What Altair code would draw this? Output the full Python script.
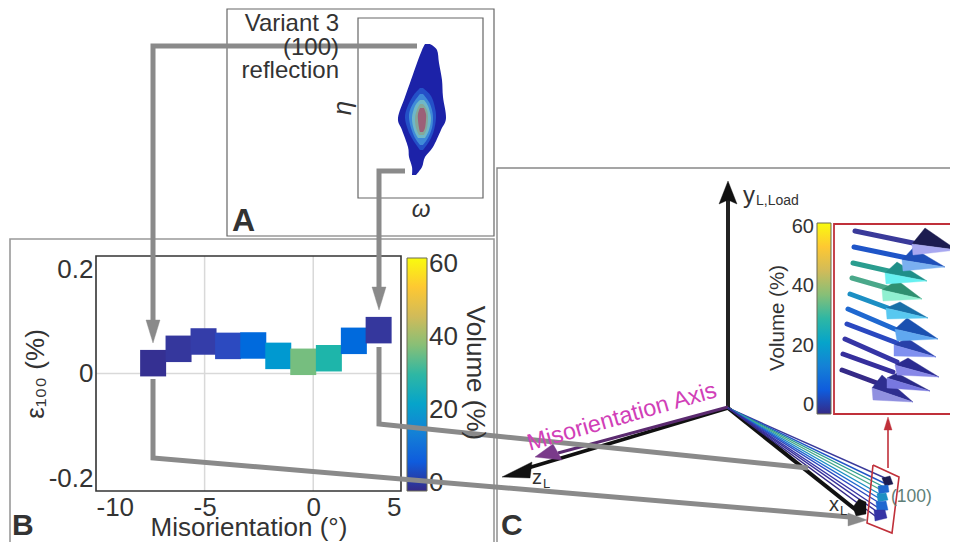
import altair as alt
import pandas as pd

# ---- panel B data
misorientation = [-7.37, -6.2, -5.05, -3.92, -2.76, -1.61, -0.46, 0.72, 1.87, 3.01]
strain = [0.0176, 0.042, 0.0545, 0.047, 0.0477, 0.030, 0.0199, 0.026, 0.0556, 0.0738]
volume = [1, 2, 3, 5, 10, 20, 36, 29, 10, 2]
parula_values = [0, 7.5, 15, 22.5, 30, 37.5, 45, 52.5, 60]
parula = ["#352a87", "#0f5cdd", "#1481d6", "#06a4ca", "#2eb7a4", "#87bf77", "#d1bb59", "#fec832", "#f9fb0e"]
bar_ticks = [0, 20, 40, 60]
INK = "#333333"

PX = alt.Scale(domain=[0, 958], range=[-8, 950], nice=False, zero=False)
PY = alt.Scale(domain=[0, 550], range=[-8, 542], nice=False, zero=False)
SX = alt.Scale(domain=[-10, 4.04], range=[88, 393], nice=False, zero=False)
SY = alt.Scale(domain=[-0.2, 0.2], range=[483, 248], nice=False, zero=False)


def X(f="x"):
    return alt.X(f"{f}:Q", scale=PX, axis=None)


def Y(f="y"):
    return alt.Y(f"{f}:Q", scale=PY, axis=None)


def frame(x0, y0, x1, y1, color="#777777", w=1.2):
    return alt.Chart(pd.DataFrame({"x": [x0], "x2": [x1], "y": [y0], "y2": [y1]})).mark_rect(
        fillOpacity=0, stroke=color, strokeWidth=w
    ).encode(x=X(), x2="x2:Q", y=Y(), y2="y2:Q")


def polyline(xs, ys, color, w, cap="butt"):
    df = pd.DataFrame({"x": xs, "y": ys, "i": range(len(xs))})
    return alt.Chart(df).mark_line(color=color, strokeWidth=w, strokeCap=cap, strokeJoin="miter").encode(
        x=X(), y=Y(), order="i:Q"
    )


def blob(ys, lefts, rights, color):
    df = pd.DataFrame({"y": ys, "x": lefts, "x2": rights})
    return alt.Chart(df).mark_area(orient="horizontal", color=color, interpolate="cardinal").encode(
        y=Y(), x=X(), x2="x2:Q"
    )


def text(x, y, s, size, align="left", angle=0, color=INK, weight="normal", style="normal", font="Liberation Sans"):
    return alt.Chart(pd.DataFrame({"x": [x], "y": [y], "t": [s]})).mark_text(
        fontSize=size, align=align, baseline="middle", angle=angle, color=color,
        fontWeight=weight, fontStyle=style, font=font
    ).encode(x=X(), y=Y(), text="t:N")


def polygons(items):
    feats = []
    for color, pts in items:
        ring = [list(p) for p in pts] + [list(pts[0])]
        feats.append({"type": "Feature", "properties": {"c": color},
                      "geometry": {"type": "Polygon", "coordinates": [ring]}})
    return alt.Chart(alt.Data(values=feats)).mark_geoshape(strokeWidth=0.4).encode(
        fill=alt.Color("properties.c:N", scale=None),
        stroke=alt.Color("properties.c:N", scale=None),
    ).project(type="identity", scale=1, translate=[-8, -8])


def colorbar(x0, x1, y0, y1):
    return alt.Chart(pd.DataFrame({"x": [x0], "x2": [x1], "y": [y0], "y2": [y1]})).mark_rect(
        fill=alt.Gradient(gradient="linear", x1=0, x2=0, y1=1, y2=0,
                          stops=[alt.GradientStop(color=c, offset=v / 60) for c, v in zip(parula, parula_values)]),
        stroke="#6b6b55", strokeWidth=1,
    ).encode(x=X(), x2="x2:Q", y=Y(), y2="y2:Q")


layers = []

# frames
layers += [
    frame(227, 9, 494, 236, "#666666"),
    frame(358, 18, 483, 198, "#666666"),
    frame(10, 239, 494, 556, "#999999", 1.6),
    frame(497, 168, 962, 556, "#888888", 1.4),
]

# panel A blob
layers += [
    blob([44, 50, 63, 80, 97, 118, 130, 147, 157, 167, 175],
         [425, 422, 417, 411, 405, 398, 402, 408, 409, 412, 412],
         [430, 437, 439, 442, 443, 446, 441, 433, 425, 422, 416], "#1c22a8"),
    blob([88, 96, 108, 118, 130, 140, 150], [420, 413, 407, 405, 408, 413, 420], [423, 431, 435, 436, 434, 430, 423], "#2450c8"),
    blob([94, 102, 110, 118, 128, 138, 145], [420, 414, 410, 409, 411, 415, 420], [423, 429, 432, 433, 432, 428, 423], "#3f8ad8"),
    blob([100, 106, 118, 130, 138], [420, 415, 412, 414, 418], [424, 428, 431, 429, 425], "#6fb8c8"),
    blob([104, 110, 118, 128, 135], [420, 417, 415, 416, 419], [423, 427, 428, 427, 424], "#85a89a"),
    blob([108, 114, 120, 128, 132], [420, 418, 418, 419, 420], [424, 426, 426, 425, 423], "#9c6078"),
]

# panel B plot
grid = pd.DataFrame({"x": [-5, 0], "y": [-0.2, -0.2], "y2": [0.2, 0.2]})
layers.append(alt.Chart(grid).mark_rule(color="#d9d9d9", strokeWidth=1.5).encode(
    x=alt.X("x:Q", scale=SX, axis=None), y=alt.Y("y:Q", scale=SY, axis=None), y2="y2:Q"))
zero = pd.DataFrame({"x": [-10], "x2": [4.04], "y": [0]})
layers.append(alt.Chart(zero).mark_rule(color="#d9d9d9", strokeWidth=1.5).encode(
    x=alt.X("x:Q", scale=SX, axis=None), x2="x2:Q", y=alt.Y("y:Q", scale=SY, axis=None)))
box = pd.DataFrame({"x": [-10], "x2": [4.04], "y": [-0.2], "y2": [0.2]})
layers.append(alt.Chart(box).mark_rect(fillOpacity=0, stroke="#333333", strokeWidth=1.6).encode(
    x=alt.X("x:Q", scale=SX,
            axis=alt.Axis(values=[-10, -5, 0, 4.04], labelExpr="datum.value>4?'5':replace(datum.label,'−','-')", offset=-51,
                          domain=False, ticks=False, grid=False, labelFontSize=26, labelColor=INK,
                          labelFont="Liberation Sans", labelPadding=3, title="Misorientation (°)",
                          titleFontSize=26, titleFont="Liberation Sans", titleFontWeight="normal",
                          titleColor=INK, titlePadding=-6)),
    x2="x2:Q",
    y=alt.Y("y:Q", scale=SY,
            axis=alt.Axis(values=[-0.2, 0, 0.2], labelExpr="datum.value==0?'0':replace(format(datum.value,'.1f'),'−','-')",
                          offset=-88, domain=False, ticks=False, grid=False,
                          labelFontSize=26, labelColor=INK, labelFont="Liberation Sans", labelPadding=3,
                          labelBaseline=alt.expr("datum.value>0?'top':datum.value<0?'bottom':'middle'"),
                          title="ε₁₀₀ (%)", titleFontSize=26, titleFont="Liberation Sans",
                          titleFontWeight="normal", titleColor=INK, titlePadding=0)),
    y2="y2:Q"))
heat = pd.DataFrame({"x": misorientation, "y": strain, "v": volume})
layers.append(alt.Chart(heat).mark_rect(width=26, height=26.5).encode(
    x=alt.X("x:Q", scale=SX, axis=None), y=alt.Y("y:Q", scale=SY, axis=None),
    color=alt.Color("v:Q", legend=None, scale=alt.Scale(domain=parula_values, range=parula))))

# colorbars
layers += [colorbar(407, 427, 258, 491), colorbar(817, 831, 223, 414)]
df_b = pd.DataFrame({"v": bar_ticks, "x": [429] * 4})
layers.append(alt.Chart(df_b).mark_text(fontSize=26, align="left", baseline="middle", color=INK, font="Liberation Sans").encode(
    x=X(), y=alt.Y("v:Q", axis=None, scale=alt.Scale(domain=[0, 60], range=[475, 256], nice=False, zero=False)), text="v:N"))
df_c = pd.DataFrame({"v": bar_ticks, "x": [814] * 4})
layers.append(alt.Chart(df_c).mark_text(fontSize=20, align="right", baseline="middle", color=INK, font="Liberation Sans").encode(
    x=X(), y=alt.Y("v:Q", axis=None, scale=alt.Scale(domain=[0, 60], range=[397, 219], nice=False, zero=False)), text="v:N"))

# panel C: main axes
layers += [
    polyline([728, 728], [408, 200], "#222222", 4),
    polyline([728, 528], [408, 468], "#111111", 3.5),
    polyline([728, 558], [407, 453], "#5b2a70", 3),
]

# fan of misorientation vectors
fan_end_x = [885, 884, 884, 883, 883, 882, 881, 880, 879, 878]
fan_end_y = [478, 483, 487, 491, 496, 500, 504, 509, 513, 518]
shaft_colors = ["#3a3a9a", "#1f55c8", "#2a9d8f", "#4aa88a", "#1c8fc4", "#1f68d0", "#2a48c0", "#3635a5", "#362f9c", "#352a87"]
layers.append(polyline([728, 856], [408, 510], "#111111", 4))
for ex, ey, c in zip(fan_end_x, fan_end_y, shaft_colors):
    layers.append(polyline([728, ex], [408, ey], c, 1.4))

# inset arrow shafts
shaft_start = [(855, 231), (854, 247), (853, 263), (852, 278), (850, 294), (848, 309), (847, 324), (845, 339), (843, 354), (842, 370)]
shaft_stop = [(913, 243), (907, 258), (893, 272), (887, 288), (888, 308), (897, 330), (897, 343), (897, 362), (893, 372), (877, 383)]
for (a, b), (e, f), c in zip(shaft_start, shaft_stop, shaft_colors):
    layers.append(polyline([a, e], [b, f], c, 5, "round"))

# inset arrow heads (dark top face, light lower face), bottom arrow first
head_tip = [(957, 250), (945, 267), (927, 281), (922, 299), (928, 318), (938, 339), (936, 357), (939, 377), (930, 391), (913, 402)]
head_top = [(925, 228), (913, 248), (897, 262), (897, 280), (900, 302), (907, 318), (907, 338), (908, 358), (897, 373), (882, 375)]
head_back_up = [(912, 244), (902, 260), (885, 273), (882, 290), (886, 308), (895, 329), (894, 345), (895, 365), (887, 378), (872, 388)]
head_back_low = [(913, 255), (903, 271), (886, 284), (883, 301), (887, 319), (897, 341), (894, 356), (897, 375), (887, 388), (873, 400)]
dark = ["#1c1c50", "#1f4fb8", "#1f8f88", "#2f9070", "#1a70a8", "#1a50b0", "#2840a8", "#2a2a90", "#2a2a88", "#2e2e90"]
light = ["#a8a8f0", "#7ab0f0", "#66f0f0", "#90f0d0", "#58c8f0", "#60a8f0", "#8090f0", "#8888e8", "#7878e0", "#9090e0"]
heads = []
for i in range(9, -1, -1):
    heads.append((dark[i], [head_top[i], head_tip[i], head_back_up[i]]))
    heads.append((light[i], [head_back_up[i], head_tip[i], head_back_low[i]]))
# main axis heads and small fan heads
heads += [
    ("#111111", [(728, 181), (719, 204), (728, 200), (737, 204)]),
    ("#111111", [(502, 477), (532, 462), (530, 478)]),
    ("#7a3a8a", [(535, 457), (553, 444), (562, 460)]),
    ("#111111", [(853, 507), (859, 499), (866, 502), (866, 514), (856, 516)]),
    ("#1c1c50", [(882, 478), (890, 476), (893, 484), (885, 486)]),
    ("#1f68d0", [(878, 486), (888, 485), (889, 492), (879, 494)]),
    ("#1c8fc4", [(877, 494), (886, 493), (888, 500), (878, 502)]),
    ("#1f68d0", [(876, 502), (886, 501), (888, 510), (877, 511)]),
    ("#3635a5", [(874, 510), (885, 510), (887, 518), (875, 521)]),
]
layers.append(polygons(heads))

# red selection box + arrow
layers += [
    polyline([873, 899, 892, 867, 873], [465, 477, 533, 523, 465], "#c0303a", 1.6),
    polyline([888, 888], [468, 425], "#c0303a", 1.6),
    frame(834, 224, 957, 414, "#c0303a", 1.8),
]

# thick grey guides
G = "#8a8a8a"
layers += [
    polyline([417, 153, 153], [46, 46, 325], G, 5),
    polyline([405, 379, 379], [171, 171, 292], G, 5),
    polyline([153, 153, 850], [379, 458, 517], G, 5),
    polyline([379, 379, 808], [347, 424, 468], G, 5),
]
layers.append(polygons([
    (G, [(153, 343), (146, 320), (160, 320)]),
    (G, [(379, 310), (372, 287), (386, 287)]),
    (G, [(867, 520), (848, 513), (848, 526)]),
    ("#c0303a", [(888, 417), (884, 430), (892, 430)]),
]))

# text
layers += [
    text(339, 24, "Variant 3", 24, "right"),
    text(339, 48, "(100)", 24, "right"),
    text(339, 71, "reflection", 24, "right"),
    text(343, 108, "η", 26, "center", angle=270, style="italic"),
    text(421, 210, "ω", 24, "center", style="italic"),
    text(232, 221, "A", 32, "left", weight="bold"),
    text(12, 526, "B", 30, "left", weight="bold"),
    text(501, 526, "C", 30, "left", weight="bold"),
    text(475, 373, "Volume (%)", 26, "center", angle=90),
    text(778, 318, "Volume (%)", 20.5, "center", angle=270),
    text(743, 196, "y", 24),
    text(756, 201, "L,Load", 14),
    text(622, 417, "Misorientation Axis", 23.5, "center", angle=344, color="#d13fb8"),
    text(532, 478, "z", 20),
    text(543, 484, "L", 13),
    text(829, 505, "x", 20),
    text(840, 511, "L", 13),
    text(891, 497, "(100)", 17.5, color="#5f7f78"),
]

chart = alt.layer(*layers).resolve_scale(x="independent", y="independent", color="independent", fill="independent", stroke="independent").properties(
    width=942, height=534, padding=0, background="white",
    autosize=alt.AutoSizeParams(type="none", contains="padding"),
).configure_view(stroke=None)

chart.save("out.html", embed_options={"renderer": "svg", "actions": False})
